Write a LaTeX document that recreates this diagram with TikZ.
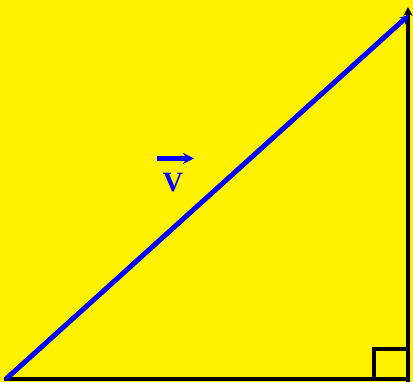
\documentclass[tikz,border=0pt]{standalone}
\usepackage{fontspec}
\setmainfont{Liberation Serif}
\usetikzlibrary{arrows.meta}

\begin{document}
\begin{tikzpicture}[x=1pt, y=1pt, line cap=butt, line join=miter, >={Stealth[length=9pt, width=9pt]}]
  % Background
  \fill[yellow] (0,0) rectangle (413,382);
  \useasboundingbox (0,0) rectangle (413,382);

  % Corners of the triangle
  \coordinate (O) at (6,3);
  \coordinate (C) at (408,3);
  \coordinate (T) at (409,367);
  \coordinate (Ttop) at (408,375);

  % Legs
  \draw[line width=4.5pt] (4,3) -- (C);
  \draw[line width=4pt] (408,-2) -- (C);
  \draw[->, line width=4pt] (C) -- (Ttop);

  % Right angle mark
  \draw[line width=3.5pt] (C) ++(-34,0) |- ++(34,30);

  % Vector along the hypotenuse
  \draw[->, blue, line width=5pt] (O) -- (T);

  % Label V with arrow
  \node[blue, font=\bfseries\fontsize{28}{28}\selectfont, inner sep=0pt] (v) at (173,199) {V};
  \draw[->, blue, line width=4.5pt, >={Stealth[length=11pt, width=11pt]}]
    ([xshift=-16pt, yshift=15pt]v.north) -- ([xshift=21pt, yshift=15pt]v.north);
\end{tikzpicture}
\end{document}
